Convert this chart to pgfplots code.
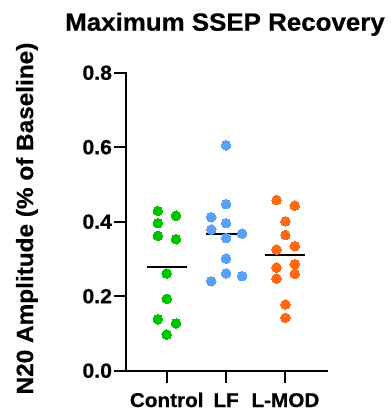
\documentclass[border=0pt]{standalone}
\usepackage{fontspec}
\setmainfont{Liberation Sans}
\newfontfamily\widefont[FakeStretch=1.04, FakeBold=0.6]{Liberation Sans}
\usepackage{pgfplots}
\pgfplotsset{compat=1.18}
\definecolor{cgreen}{RGB}{0,196,0}
\definecolor{cblue}{RGB}{88,160,248}
\definecolor{corange}{RGB}{255,105,20}
\begin{document}
\begin{tikzpicture}
\path[use as bounding box] (0,0) rectangle (391bp,411bp);
\begin{axis}[
 at={(126bp,40.3bp)}, anchor=south west,
 scale only axis, width=201bp, height=298bp,
 xmin=-0.686, xmax=2.70, ymin=0, ymax=0.8,
 axis x line*=bottom, axis y line*=left,
 axis line style={line width=2bp, line cap=rect},
 xtick={0,1,2}, xticklabels={},
 ytick={0,0.2,0.4,0.6,0.8},
 /pgf/number format/assume math mode=true,
 yticklabel style={font=\widefont\bfseries\fontsize{20.5}{22}\selectfont, xshift=2bp, /pgf/number format/fixed, /pgf/number format/fixed zerofill, /pgf/number format/precision=1},
 major tick length=12.5bp, tick align=outside,
 tick style={line width=2bp, black},
 clip=false,
]
\addplot[black, line width=2.2bp] coordinates {(-0.337,0.278) (0.337,0.278)};
\addplot[black, line width=2.2bp] coordinates {(0.663,0.367) (1.337,0.367)};
\addplot[black, line width=2.2bp] coordinates {(1.663,0.311) (2.337,0.311)};
\addplot[only marks, mark=*, color=cgreen, mark size=4.8bp, mark options={draw=cgreen, fill=cgreen, line width=0pt}] coordinates {
(-0.15,0.429) (0.157,0.416) (-0.15,0.396) (-0.15,0.362) (0.157,0.353) (0,0.261) (0,0.193) (-0.15,0.138) (0.157,0.127) (0,0.097)};
\addplot[only marks, mark=*, color=cblue, mark size=4.8bp, mark options={draw=cblue, fill=cblue, line width=0pt}] coordinates {
(1,0.605) (1,0.447) (0.75,0.412) (0.75,0.379) (1,0.396) (1.27,0.368) (1,0.356) (1,0.301) (1,0.261) (1.27,0.254) (0.75,0.240)};
\addplot[only marks, mark=*, color=corange, mark size=4.8bp, mark options={draw=corange, fill=corange, line width=0pt}] coordinates {
(1.85,0.458) (2.157,0.443) (2,0.401) (2,0.364) (1.85,0.325) (2.157,0.334) (1.85,0.277) (2.157,0.286) (1.85,0.247) (2.157,0.260) (2,0.178) (2,0.142)};
\node[anchor=base, font=\widefont\bfseries\fontsize{20}{22}\selectfont, yshift=-36.3bp] at (axis cs:0,0) {Control};
\node[anchor=base, font=\widefont\bfseries\fontsize{20}{22}\selectfont, yshift=-36.3bp] at (axis cs:1,0) {LF};
\node[anchor=base, font=\widefont\bfseries\fontsize{20}{22}\selectfont, yshift=-36.3bp] at (axis cs:2,0) {L-MOD};
\end{axis}
\node[anchor=base, font=\widefont\bfseries\fontsize{25}{28}\selectfont] at (225bp,380.3bp) {Maximum SSEP Recovery};
\node[anchor=base, rotate=90, font=\widefont\bfseries\fontsize{23.5}{26}\selectfont] at (33bp,192.5bp) {N20 Amplitude (\% of Baseline)};
\end{tikzpicture}
\end{document}
